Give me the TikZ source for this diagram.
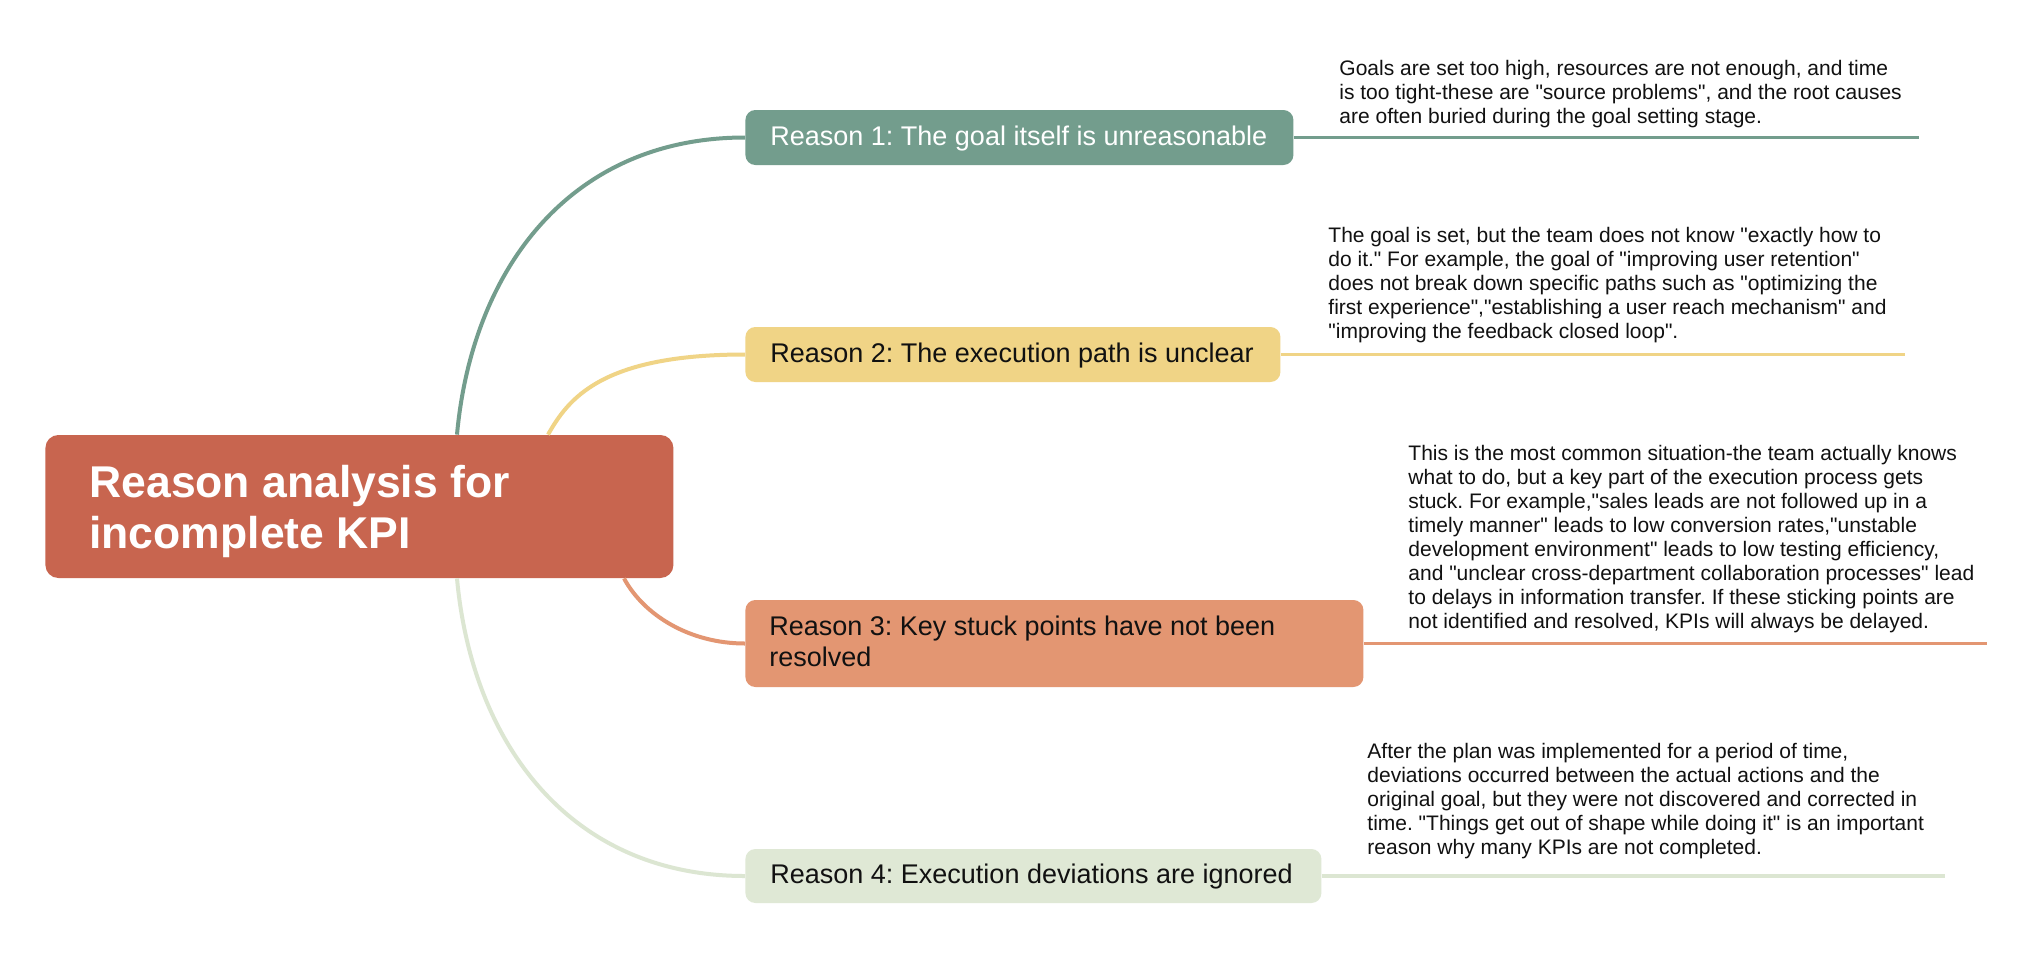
\documentclass[tikz,border=0pt]{standalone}
\usepackage{fontspec}
\setmainfont{Liberation Sans}[Ligatures=TeXOff]
\frenchspacing
\usetikzlibrary{calc}
\definecolor{rootc}{HTML}{C8654F}
\definecolor{cone}{HTML}{739D8D}
\definecolor{ctwo}{HTML}{F0D486}
\definecolor{cthree}{HTML}{E39672}
\definecolor{cfour}{HTML}{DFE8D5}
\definecolor{cfourline}{HTML}{DCE6D2}
\definecolor{txt}{HTML}{111111}
\begin{document}
\begin{tikzpicture}[x=0.5pt,y=-0.5pt,
  box/.style={draw=none, rounded corners=5pt, inner sep=0pt, anchor=west},
  lbl/.style={anchor=base west, inner sep=0pt, font=\frenchspacing\fontsize{13.5}{15.5}\selectfont},
  desc/.style={anchor=north west, inner sep=0pt, align=left, text=txt, font=\frenchspacing\fontsize{10.5}{12}\selectfont},
  conn/.style={line width=2pt},
  tail/.style={line width=1.7pt}]
\useasboundingbox (0,0) rectangle (2032,964);
\fill[white] (0,0) rectangle (2032,964);

% root
\node[box, fill=rootc, minimum width=314pt, minimum height=71.5pt, rounded corners=6.5pt] (root) at (45,506.5) {};
\node[anchor=north west, inner sep=0pt, align=left, text=white, font=\fontsize{22.25}{25.5}\selectfont\bfseries] (roott) at (89,465) {Reason analysis for\\incomplete KPI};

% reason boxes
\node[box, fill=cone, minimum width=274pt, minimum height=27.5pt] (r1) at (745,137.5) {};
\node[lbl, text=white] (r1t) at (770,145) {Reason 1: The goal itself is unreasonable};

\node[box, fill=ctwo, minimum width=267.5pt, minimum height=27.5pt] (r2) at (745,354.5) {};
\node[lbl, text=txt] (r2t) at (770,362) {Reason 2: The execution path is unclear};

\node[box, fill=cthree, minimum width=309pt, minimum height=43.5pt] (r3) at (745,643.5) {};
\node[anchor=north west, inner sep=0pt, align=left, text=txt, font=\frenchspacing\fontsize{13.5}{15.5}\selectfont] (r3t) at (769,616) {Reason 3: Key stuck points have not been\\resolved};

\node[box, fill=cfour, minimum width=288pt, minimum height=27pt] (r4) at (745,876) {};
\node[lbl, text=txt] (r4t) at (770,883) {Reason 4: Execution deviations are ignored};

% tail ends
\coordinate (e1) at (1919,137.5);
\coordinate (e2) at (1905,354.5);
\coordinate (e3) at (1987,643.5);
\coordinate (e4) at (1945,876);

% connectors
\draw[conn, cone] ($(root.north west)+(412,0)$) .. controls +(15,-165) and +(-175,0) .. (r1.west);
\draw[conn, ctwo] ($(root.north west)+(503,0)$) .. controls +(20,-35) and +(-145,0) .. (r2.west);
\draw[conn, cthree] ($(root.south west)+(579,0)$) .. controls +(20,37) and +(-55,0) .. (r3.west);
\draw[conn, cfourline] ($(root.south west)+(412,0)$) .. controls +(15,165) and +(-175,0) .. (r4.west);

\draw[tail, cone] (r1.east) -- (e1);
\draw[tail, ctwo] (r2.east) -- (e2);
\draw[tail, cthree] (r3.east) -- (e3);
\draw[tail, cfourline] (r4.east) -- (e4);

% descriptions
\node[desc] (d1) at (1339,60) {Goals are set too high, resources are not enough, and time\\is too tight-these are "source problems", and the root causes\\are often buried during the goal setting stage.};
\node[desc] (d2) at (1328,227) {The goal is set, but the team does not know "exactly how to\\do it." For example, the goal of "improving user retention"\\does not break down specific paths such as "optimizing the\\first experience","establishing a user reach mechanism" and\\"improving the feedback closed loop".};
\node[desc] (d3) at (1408,445) {This is the most common situation-the team actually knows\\what to do, but a key part of the execution process gets\\stuck. For example,"sales leads are not followed up in a\\timely manner" leads to low conversion rates,"unstable\\development environment" leads to low testing efficiency,\\and "unclear cross-department collaboration processes" lead\\to delays in information transfer. If these sticking points are\\not identified and resolved, KPIs will always be delayed.};
\node[desc] (d4) at (1367,743) {After the plan was implemented for a period of time,\\deviations occurred between the actual actions and the\\original goal, but they were not discovered and corrected in\\time. "Things get out of shape while doing it" is an important\\reason why many KPIs are not completed.};
\end{tikzpicture}
\end{document}
